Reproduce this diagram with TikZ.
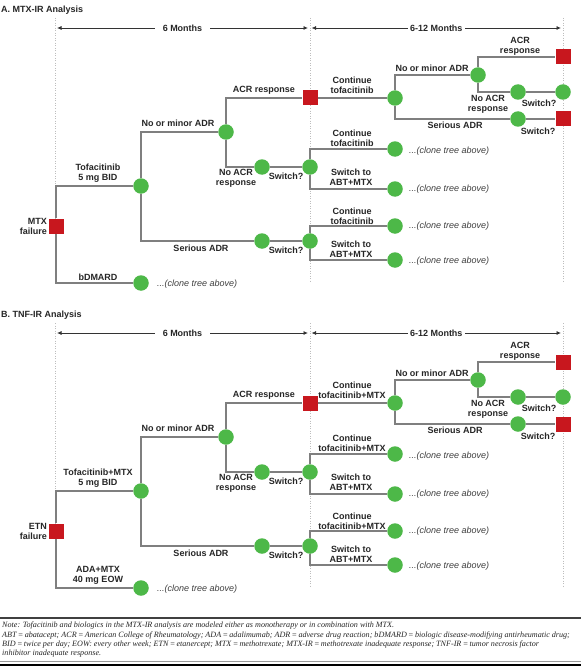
\documentclass[tikz,border=0pt]{standalone}
\usepackage{fontspec}
\usetikzlibrary{arrows.meta}
\newfontfamily\lblfam{Liberation Sans}
\newfontfamily\notefam{Liberation Serif}
\definecolor{dgreen}{HTML}{4DB848}
\definecolor{dred}{HTML}{C8171E}
\definecolor{lgray}{HTML}{7F7F7F}
\definecolor{dotgray}{HTML}{BDBDBD}
\tikzset{
 gc/.style={circle, fill=dgreen, minimum size=15.5pt, inner sep=0pt},
 rs/.style={rectangle, fill=dred, minimum size=15pt, inner sep=0pt},
 lbl/.style={font=\lblfam\bfseries\fontsize{9}{10}\selectfont, align=center, inner sep=0pt, text=black!85},
 clone/.style={font=\lblfam\itshape\fontsize{9}{10}\selectfont, anchor=west, inner sep=0pt, text=black!75},
 conn/.style={draw=lgray, line width=1.1pt},
 guide/.style={draw=dotgray, line width=0.6pt, dash pattern=on 1pt off 1.5pt},
 span/.style={draw=black!80, line width=0.8pt, {Latex[length=4.5pt,width=4pt]}-{Latex[length=4.5pt,width=4pt]}},
}
\newcommand\mytree[8]{%
\begin{scope}[shift={(0,#2)}]
 \node[lbl, anchor=west] (#1title) at (1,10) {#3};
 % guides
 \coordinate (#1g1t) at (55,18); \coordinate (#1g1b) at (55,283);
 \coordinate (#1g2t) at (310,18); \coordinate (#1g2b) at (310,283);
 \coordinate (#1g3t) at (563,18); \coordinate (#1g3b) at (563,283);
 \draw[guide] (#1g1t) -- (#1g1b);
 \draw[guide] (#1g2t) -- (#1g2b);
 \draw[guide] (#1g3t) -- (#1g3b);
 % spans
 \coordinate (#1a1) at (57,28); \coordinate (#1a2) at (308,28);
 \coordinate (#1a3) at (311.5,28); \coordinate (#1a4) at (561,28);
 \draw[span] (#1a1) -- node[lbl, fill=white, inner xsep=8pt, inner ysep=1pt] (#1m6) {6 Months} (#1a2);
 \draw[span] (#1a3) -- node[lbl, fill=white, inner xsep=2pt, inner ysep=1pt] (#1m12) {6-12 Months} (#1a4);
 % nodes
 \node[rs] (#1root) at (56,226) {};
 \node[gc] (#1tof) at (141,186) {};
 \node[gc] (#1bd) at (141,283) {};
 \node[gc] (#1nm) at (226,132) {};
 \node[gc] (#1sa) at (262,241) {};
 \node[rs] (#1acr) at (310,98) {};
 \node[gc] (#1nar) at (262,167) {};
 \node[gc] (#1swa) at (310,167) {};
 \node[gc] (#1swb) at (310,241) {};
 \node[gc] (#1ct) at (395,98) {};
 \node[gc] (#1nmb) at (478,75) {};
 \node[gc] (#1sab) at (518,119) {};
 \node[rs] (#1sqa) at (563,57) {};
 \node[gc] (#1narb) at (518,92) {};
 \node[gc] (#1endb) at (563,92) {};
 \node[rs] (#1sqb) at (563,119) {};
 \node[gc] (#1ca) at (395,149) {};
 \node[gc] (#1cb) at (395,189) {};
 \node[gc] (#1cc) at (395,226) {};
 \node[gc] (#1cd) at (395,260) {};
 % connectors
 \draw[conn] (#1root) |- (#1tof);
 \draw[conn] (#1root) |- (#1bd);
 \draw[conn] (#1tof) |- (#1nm);
 \draw[conn] (#1tof) |- (#1sa);
 \draw[conn] (#1nm) |- (#1acr);
 \draw[conn] (#1nm) |- (#1nar);
 \draw[conn] (#1nar) -- (#1swa);
 \draw[conn] (#1sa) -- (#1swb);
 \draw[conn] (#1acr) -- (#1ct);
 \draw[conn] (#1ct) |- (#1nmb);
 \draw[conn] (#1ct) |- (#1sab);
 \draw[conn] (#1nmb) |- (#1sqa);
 \draw[conn] (#1nmb) |- (#1narb);
 \draw[conn] (#1narb) -- (#1endb);
 \draw[conn] (#1sab) -- (#1sqb);
 \draw[conn] (#1swa) |- (#1ca);
 \draw[conn] (#1swa) |- (#1cb);
 \draw[conn] (#1swb) |- (#1cc);
 \draw[conn] (#1swb) |- (#1cd);
 % labels
 \node[lbl, align=right, anchor=east] (#1Lroot) at (47,226) {#4};
 \node[lbl] (#1Ltof) at (98,173) {#5};
 \node[lbl] (#1Lbd) at (98,#7) {#6};
 \node[clone] (#1Kbd) at (157,284) {...(clone tree above)};
 \node[lbl] (#1Lnm) at (178,123) {No or minor ADR};
 \node[lbl] (#1Lacr) at (264,90) {ACR response};
 \node[lbl] (#1Lnar) at (236,178) {No ACR\\response};
 \node[lbl] (#1Lswa) at (286,176) {Switch?};
 \node[lbl] (#1Lsa) at (201,248) {Serious ADR};
 \node[lbl] (#1Lswb) at (286,250) {Switch?};
 \node[lbl] (#1Lct) at (352,85) {#8};
 \node[lbl] (#1Lnmb) at (432,68) {No or minor ADR};
 \node[lbl] (#1Lsqa) at (520,46) {ACR\\response};
 \node[lbl] (#1Lnarb) at (488,104) {No ACR\\response};
 \node[lbl] (#1Lswc) at (539,103) {Switch?};
 \node[lbl] (#1Lsab) at (455,125) {Serious ADR};
 \node[lbl] (#1Lswd) at (538,131) {Switch?};
 \node[lbl] (#1Lca) at (352,138) {#8};
 \node[lbl] (#1Lcb) at (351,177) {Switch to\\ABT+MTX};
 \node[lbl] (#1Lcc) at (352,216) {#8};
 \node[lbl] (#1Lcd) at (351,249) {Switch to\\ABT+MTX};
 \node[clone] (#1Ka) at (409,151) {...(clone tree above)};
 \node[clone] (#1Kb) at (409,189) {...(clone tree above)};
 \node[clone] (#1Kc) at (409,226) {...(clone tree above)};
 \node[clone] (#1Kd) at (409,261) {...(clone tree above)};
\end{scope}}
\begin{document}
\begin{tikzpicture}[x=1pt,y=-1pt]
 \useasboundingbox (0,0) rectangle (581,666);
 \fill[white] (0,0) rectangle (581,666);
 \mytree{A}{0}{A. MTX-IR Analysis}{MTX\\failure}{Tofacitinib\\5 mg BID}{bDMARD}{277}{Continue\\tofacitinib}
 \mytree{B}{305}{B. TNF-IR Analysis}{ETN\\failure}{Tofacitinib+MTX\\5 mg BID}{ADA+MTX\\40 mg EOW}{270}{Continue\\tofacitinib+MTX}
 % note
 \coordinate (n1) at (0,618); \coordinate (n2) at (581,618);
 \draw[draw=black!75, line width=2pt] (n1) -- (n2);
 \node[anchor=north west, inner sep=0pt, align=left, font=\notefam\itshape\fontsize{8.1}{9.2}\selectfont, text=black!85] (note) at (2,622) {Note: Tofacitinib and biologics in the MTX-IR analysis are modeled either as monotherapy or in combination with MTX.\\
ABT\,=\,abatacept; ACR\,=\,American College of Rheumatology; ADA\,=\,adalimumab; ADR\,=\,adverse drug reaction; bDMARD\,=\,biologic disease-modifying antirheumatic drug;\\
BID\,=\,twice per day; EOW: every other week; ETN\,=\,etanercept; MTX\,=\,methotrexate; MTX-IR\,=\,methotrexate inadequate response; TNF-IR\,=\,tumor necrosis factor\\
inhibitor inadequate response.};
 \coordinate (b1) at (0,661.5); \coordinate (b2) at (581,661.5);
 \draw[draw=black!40, line width=0.8pt] (b1) -- (b2);
 \fill[black] (0,663.5) rectangle (581,666);
\end{tikzpicture}
\end{document}
